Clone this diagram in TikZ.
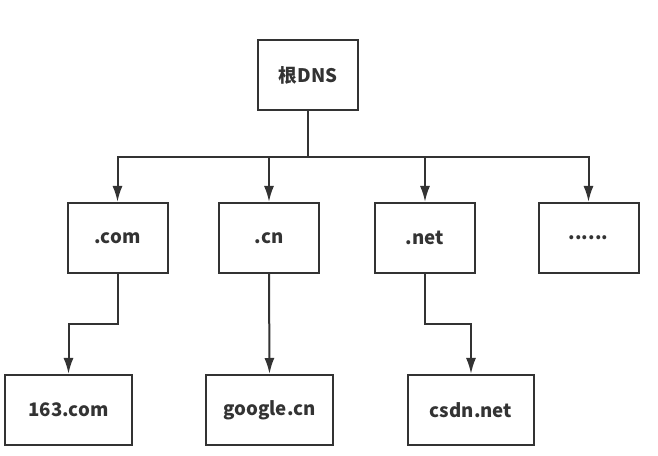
\documentclass[tikz,border=0pt]{standalone}
\usepackage{fontspec}
\newfontfamily\cjkfont{Noto Sans CJK SC}
\usetikzlibrary{arrows.meta}
\definecolor{linegray}{HTML}{333333}

\begin{document}
\begin{tikzpicture}[x=0.75pt,y=-0.75pt,>={Latex[length=12pt,width=7.5pt]}]

\def\boxheight{52.5pt}
\def\drop{46}

\tikzset{
  dnsbox/.style={draw=linegray,line width=1.5pt,minimum width=75pt,minimum height=\boxheight,inner sep=0pt,
    font=\cjkfont\bfseries\fontsize{14pt}{16pt}\selectfont,text=linegray},
  sitebox/.style={dnsbox,minimum width=95pt},
  link/.style={->,draw=linegray,line width=1.5pt}
}

\useasboundingbox (0,0) rectangle (658,456);

\node[dnsbox] (root) at (308,75) {根DNS};

\node[dnsbox] (com) at (117.5,238) {.com};
\node[dnsbox] (cn) at (269,238) {.cn};
\node[dnsbox] (net) at (425,238) {.net};
\node[dnsbox] (more) at (588.5,238) {......};

\node[sitebox] (site163) at (68.5,410) {163.com};
\node[sitebox] (google) at (269.5,410) {google.cn};
\node[sitebox] (csdn) at (471,410) {csdn.net};

%\draw[link] (root.south) -- (com.north);
\draw[link] (root.south) -- ++(0,\drop) -| (com.north);
\draw[link] (root.south) -- ++(0,\drop) -| (cn.north);
\draw[link] (root.south) -- ++(0,\drop) -| (net.north);
\draw[link] (root.south) -- ++(0,\drop) -| (more.north);

\draw[link] (com.south) -- ++(0,50) -| (site163.north);
\draw[link] (cn.south) -- (google.north);
\draw[link] (net.south) -- ++(0,50) -| (csdn.north);

\end{tikzpicture}
\end{document}
